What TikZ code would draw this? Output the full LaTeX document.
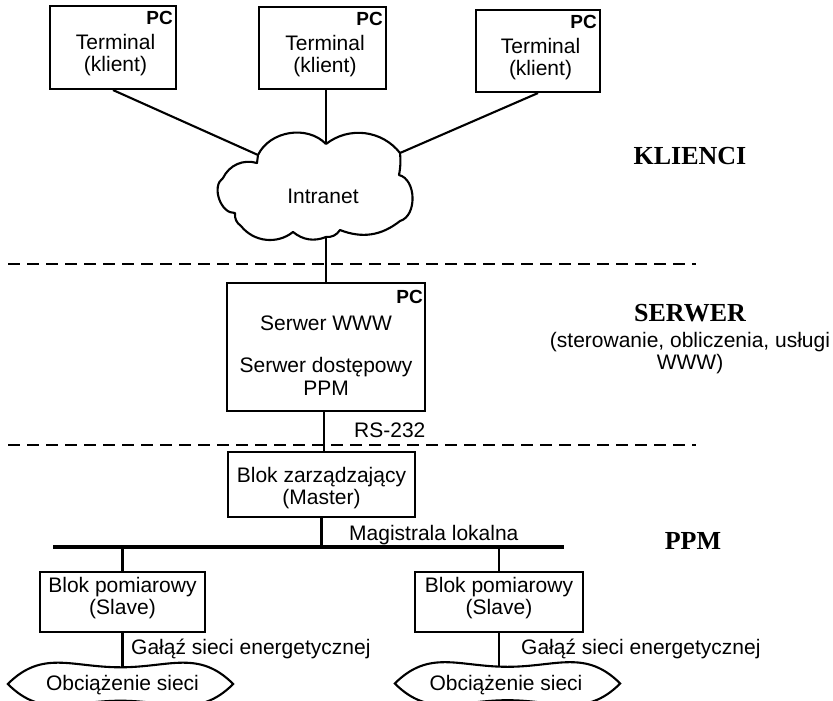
\documentclass[tikz,border=0pt]{standalone}
\usepackage{fontspec}
\setmainfont{Liberation Sans}
\newfontfamily\headserif{Liberation Serif}
\usetikzlibrary{calc}
\begin{document}
\begin{tikzpicture}[x=1pt,y=-1pt,
  line/.style={line width=2.1pt},
  box/.style={draw, line width=2.1pt, inner sep=0pt},
  txt/.style={font=\fontsize{21}{22}\selectfont, inner sep=0pt},
  pc/.style={font=\bfseries\fontsize{19}{19}\selectfont, inner sep=0pt},
  head/.style={font=\headserif\bfseries\fontsize{26}{26}\selectfont, inner sep=0pt},
  sep/.style={line width=2pt, dash pattern=on 12pt off 7pt},
  bus/.style={line width=4pt},
  lensbox/.style={minimum width=225pt, minimum height=33pt, inner sep=0pt}]

\fill[white] (0,0) rectangle (833,701);
\useasboundingbox (0,0) rectangle (833,701);

% client terminals
\node[box, minimum width=126pt, minimum height=83pt] (t1) at (113,47.5) {};
\node[box, minimum width=127pt, minimum height=82pt] (t2) at (322.5,48) {};
\node[box, minimum width=124pt, minimum height=82pt] (t3) at (538,51) {};
\foreach \t in {t1,t2,t3} {
  \node[pc, anchor=base east] (\t-pc) at ($(\t.north east)+(-4,20)$) {PC};
  \node[txt, anchor=base] (\t-a) at ($(\t.north)+(2.5,45)$) {Terminal};
  \node[txt, anchor=base] (\t-b) at ($(\t.north)+(2.5,67)$) {(klient)};
}

% intranet cloud
\coordinate (cn) at (326,144);
\coordinate (cne) at (400,153);
\coordinate (cnw) at (258,155);
\coordinate (cs) at (326,237);
\draw[line, line join=round] (cn) to[bend left=45] (cne) to[bend left=8] (399,175)
  to[bend left=75] (400,221) to[bend left=30] (340,230) to[bend left=30] (cs)
  to[bend left=30] (293,232) to[bend left=45] (241,226) to[bend left=30] (235,213)
  to[bend left=75] (223,178) to[bend left=40] (257,163) -- (cnw)
  to[bend left=55] (cn);
\node[txt, anchor=base] (intranet) at (323,203) {Intranet};

\draw[line] (t1.south) -- (cnw);
\draw[line] (t2.south -| cn) -- (cn);
\draw[line] (t3.south) -- (cne);

% layer separators
\coordinate (d1w) at (8,264);
\coordinate (d1e) at (696,264);
\coordinate (d2w) at (8,445);
\coordinate (d2e) at (696,445);
\draw[sep] (d1w) -- (d1e);
\draw[sep] (d2w) -- (d2e);

% server
\node[box, minimum width=198pt, minimum height=128pt] (srv) at (326,347) {};
\node[pc, anchor=base east] (srv-pc) at ($(srv.north east)+(-3,22)$) {PC};
\node[txt, anchor=base] (srv-a) at (326,330) {Serwer WWW};
\node[txt, anchor=base] (srv-b) at (326,372) {Serwer dostępowy};
\node[txt, anchor=base] (srv-c) at (326,395) {PPM};
\draw[line] (cs) -- (cs |- srv.north);

% master block
\node[box, minimum width=187pt, minimum height=65pt] (master) at (321.5,484.5) {};
\node[txt, anchor=base] (master-a) at (321.5,482) {Blok zarządzający};
\node[txt, anchor=base] (master-b) at (321.5,504) {(Master)};
\draw[line] ($(srv.south)+(-2,0)$) -- ($(master.north)+(2.5,0)$);
\node[txt, anchor=base west] (rs) at (354,437) {RS-232};

% local bus
\coordinate (busw) at (53,547);
\coordinate (buse) at (564,547);
\draw[bus] (busw) -- (buse);
\draw[line] (master.south) -- (master.south |- busw);
\node[txt, anchor=base west] (mag) at (349,540) {Magistrala lokalna};

% measuring blocks
\node[box, minimum width=165pt, minimum height=60pt] (s1) at (122.5,602) {};
\node[box, minimum width=168pt, minimum height=60pt] (s2) at (499,602) {};
\foreach \s in {s1,s2} {
  \node[txt, anchor=base] (\s-a) at ($(\s.north)+(0,22)$) {Blok pomiarowy};
  \node[txt, anchor=base] (\s-b) at ($(\s.north)+(0,44)$) {(Slave)};
  \draw[line] (\s.north |- busw) -- (\s.north);
}

% loads
\node[lensbox] (e1) at (120.5,684) {};
\node[lensbox] (e2) at (507.5,683.5) {};
\foreach \e in {e1,e2} {
  \draw[line] (\e.west) to[out=45,in=180,looseness=1.1] (\e.north) to[out=0,in=135,looseness=1.1] (\e.east)
    to[out=-135,in=0,looseness=1.1] (\e.south) to[out=180,in=-45,looseness=1.1] (\e.west) -- cycle;
}
\node[txt, anchor=base] (e1-t) at (122.5,690) {Obciążenie sieci};
\node[txt, anchor=base] (e2-t) at (506,690) {Obciążenie sieci};
\draw[line] (s1.south) -- (s1.south |- e1.north);
\draw[line] (s2.south) -- (s2.south |- e2.north);
\node[txt, anchor=base west] (g1) at (131,654) {Gałąź sieci energetycznej};
\node[txt, anchor=base west] (g2) at (521,654) {Gałąź sieci energetycznej};

% layer captions
\node[head, anchor=base] (klienci) at (690,164) {KLIENCI};
\node[head, anchor=base] (serwer) at (690,321) {SERWER};
\node[txt, anchor=base] (serwer-a) at (690,347) {(sterowanie, obliczenia, usługi};
\node[txt, anchor=base] (serwer-b) at (690,369) {WWW)};
\node[head, anchor=base] (ppm) at (693,549) {PPM};
\end{tikzpicture}
\end{document}
